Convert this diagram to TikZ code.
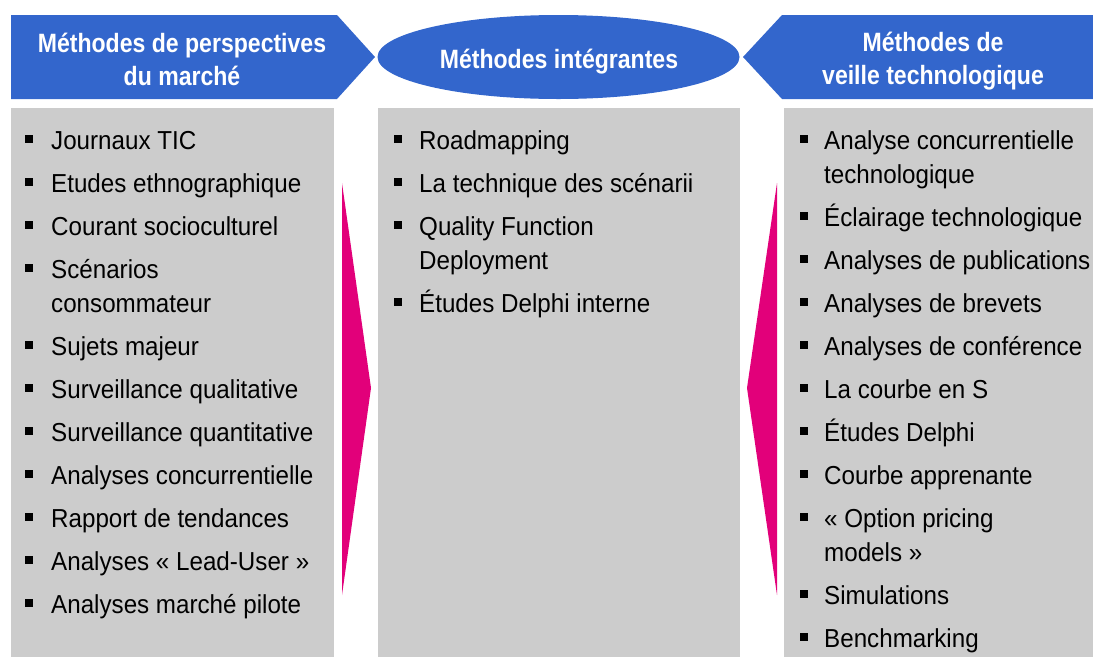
\documentclass[tikz,border=0pt]{standalone}
\usepackage{fontspec}
\setmainfont{Liberation Sans}[FakeStretch=0.93, BoldFeatures={FakeStretch=0.87}]
\usetikzlibrary{shapes.geometric}
\definecolor{tblue}{HTML}{3366CC}
\definecolor{tmag}{HTML}{E2007A}
\definecolor{tgray}{HTML}{CCCCCC}
\begin{document}
\begin{tikzpicture}[x=1pt,y=-1pt,
  itemtext/.style={anchor=base west, inner sep=0pt, font=\fontsize{26}{31}\selectfont},
  bul/.style={fill=black, minimum size=8pt, inner sep=0pt, draw=none},
  headtext/.style={anchor=base, inner sep=0pt, text=white, font=\fontsize{26.5}{31}\selectfont\bfseries},
  panel/.style={fill=tgray, draw=none},
  headshape/.style={fill=tblue, draw=none},
  wedge/.style={fill=tmag, draw=none}]
\useasboundingbox (0,0) rectangle (1093,657);
% headers
\path[headshape] (11,15) -- (337,15) -- (375,57) -- (337,99) -- (11,99) -- cycle;
\node[headshape, ellipse, minimum width=362pt, minimum height=84pt, inner sep=0pt] (hmid) at (558.5,57) {};
\path[headshape] (1093,15) -- (782,15) -- (743,57) -- (782,99) -- (1093,99) -- cycle;
\node[headtext] (hl1) at (182,52) {Méthodes de perspectives};
\node[headtext] (hl2) at (182,85) {du marché};
\node[headtext] (hm1) at (559,68) {Méthodes intégrantes};
\node[headtext] (hr1) at (933,51) {Méthodes de};
\node[headtext] (hr2) at (933,84) {veille technologique};
% panels
\path[panel] (11,108) rectangle (334,657);
\path[panel] (378,108) rectangle (740,657);
\path[panel] (784,108) rectangle (1093,657);
% magenta wedges
\path[wedge] (342,183) -- (371,388) -- (342,595) -- cycle;
\path[wedge] (777,183) -- (747,388) -- (777,595) -- cycle;
% left items
\foreach \yy/\txt [count=\i] in {149/Journaux TIC, 192/Etudes ethnographique, 235/Courant socioculturel, 278/Scénarios, 355/Sujets majeur, 398/Surveillance qualitative, 441/Surveillance quantitative, 484/Analyses concurrentielle, 527/Rapport de tendances, 570/Analyses « Lead-User », 613/Analyses marché pilote}{
  \node[bul] (lb\i) at (29,\yy-10) {};
  \node[itemtext] (lt\i) at (51,\yy) {\txt};
}
\node[itemtext] (ltc1) at (51,312) {consommateur};
% middle items
\foreach \yy/\txt [count=\i] in {149/Roadmapping, 192/La technique des scénarii, 235/Quality Function, 312/Études Delphi interne}{
  \node[bul] (mb\i) at (398,\yy-10) {};
  \node[itemtext] (mt\i) at (419,\yy) {\txt};
}
\node[itemtext] (mtc1) at (419,269) {Deployment};
% right items
\foreach \yy/\txt [count=\i] in {149/Analyse concurrentielle, 226/Éclairage technologique, 269/Analyses de publications, 312/Analyses de brevets, 355/Analyses de conférence, 398/La courbe en S, 441/Études Delphi, 484/Courbe apprenante, 527/« Option pricing, 604/Simulations, 647/Benchmarking}{
  \node[bul] (rb\i) at (804,\yy-10) {};
  \node[itemtext] (rt\i) at (824,\yy) {\txt};
}
\node[itemtext] (rtc1) at (824,183) {technologique};
\node[itemtext] (rtc2) at (824,561) {models »};
\end{tikzpicture}
\end{document}
